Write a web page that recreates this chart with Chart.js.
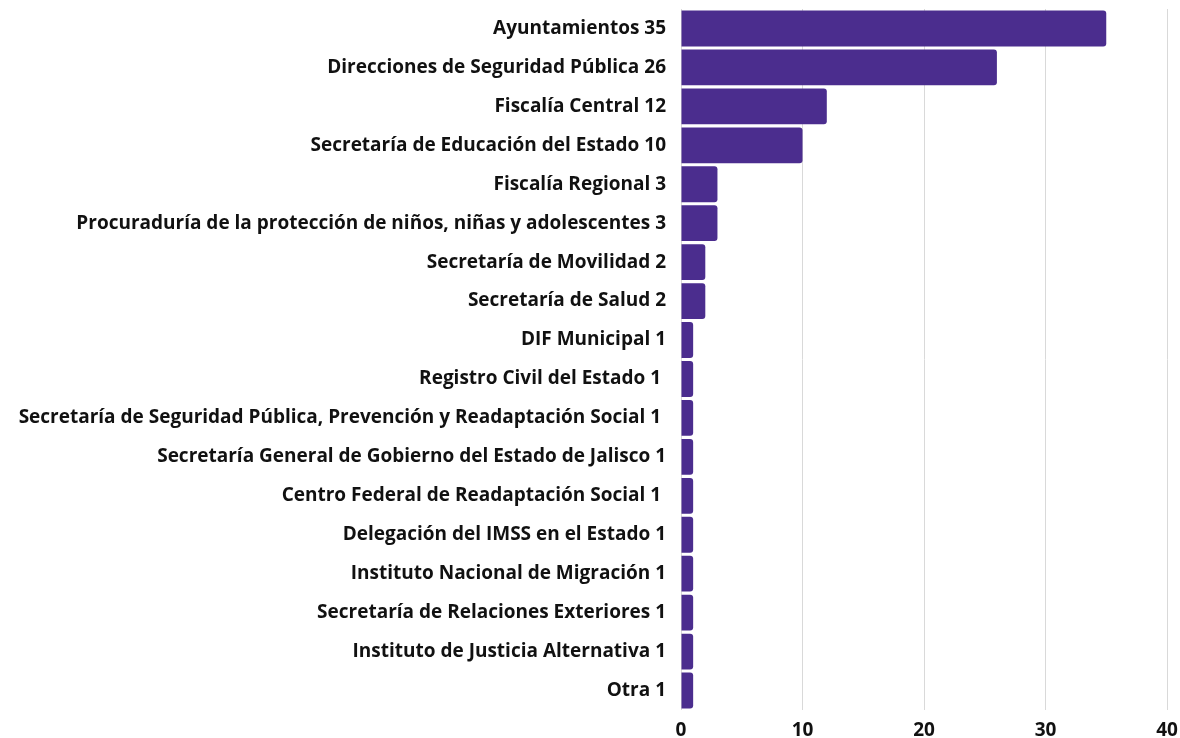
<!DOCTYPE html>
<html>
<head>
<meta charset="utf-8">
<script src="https://cdn.jsdelivr.net/npm/chart.js@4/dist/chart.umd.min.js"></script>
<style>
  html, body { margin: 0; padding: 0; background: #fff; font-family: 'Open Sans'; }
  #wrap { width: 1180px; height: 738px; position: relative; }
</style>
</head>
<body>
<div id="wrap"><canvas id="chart"></canvas></div>
<script>
const categories = [
  'Ayuntamientos 35',
  'Direcciones de Seguridad Pública 26',
  'Fiscalía Central 12',
  'Secretaría de Educación del Estado 10',
  'Fiscalía Regional 3',
  'Procuraduría de la protección de niños, niñas y adolescentes 3',
  'Secretaría de Movilidad 2',
  'Secretaría de Salud 2',
  'DIF Municipal 1',
  'Registro Civil del Estado 1 ',
  'Secretaría de Seguridad Pública, Prevención y Readaptación Social 1 ',
  'Secretaría General de Gobierno del Estado de Jalisco 1',
  'Centro Federal de Readaptación Social 1 ',
  'Delegación del IMSS en el Estado 1',
  'Instituto Nacional de Migración 1',
  'Secretaría de Relaciones Exteriores 1',
  'Instituto de Justicia Alternativa 1',
  'Otra 1'
];
const values = [35, 26, 12, 10, 3, 3, 2, 2, 1, 1, 1, 1, 1, 1, 1, 1, 1, 1];
const xTicks = [0, 10, 20, 30, 40];

const font = { family: "'Open Sans'", size: 19, weight: 'bold' };

function draw() {
  new Chart(document.getElementById('chart'), {
    type: 'bar',
    data: {
      labels: categories,
      datasets: [{
        data: values,
        backgroundColor: '#4b2d8e',
        borderRadius: 3,
        borderSkipped: 'start',
        barPercentage: 0.92,
        categoryPercentage: 1,
      }],
    },
    options: {
      indexAxis: 'y',
      responsive: true,
      maintainAspectRatio: false,
      animation: false,
      layout: { padding: { top: 9, right: 13, left: 0, bottom: 0 } },
      plugins: {
        legend: { display: false },
        tooltip: { enabled: false },
      },
      scales: {
        x: {
          min: 0,
          max: 40,
          afterBuildTicks: axis => { axis.ticks = xTicks.map(v => ({ value: v })); },
          afterFit: scale => {
            scale.height = 28;
            scale.paddingLeft = 0;
            scale.paddingRight = 0;
          },
          border: { display: false },
          grid: { color: '#d9d9d9', drawTicks: false },
          ticks: { color: '#111', font, padding: 9 },
        },
        y: {
          afterFit: scale => {
            scale.width = 681;
            scale.paddingTop = 0;
            scale.paddingBottom = 0;
          },
          border: { display: false },
          grid: { display: false },
          ticks: { color: '#111', font, padding: 7, autoSkip: false },
        },
      },
    },
  });
}

document.fonts.load("bold 19px 'Open Sans'").then(draw, draw);
</script>
</body>
</html>
